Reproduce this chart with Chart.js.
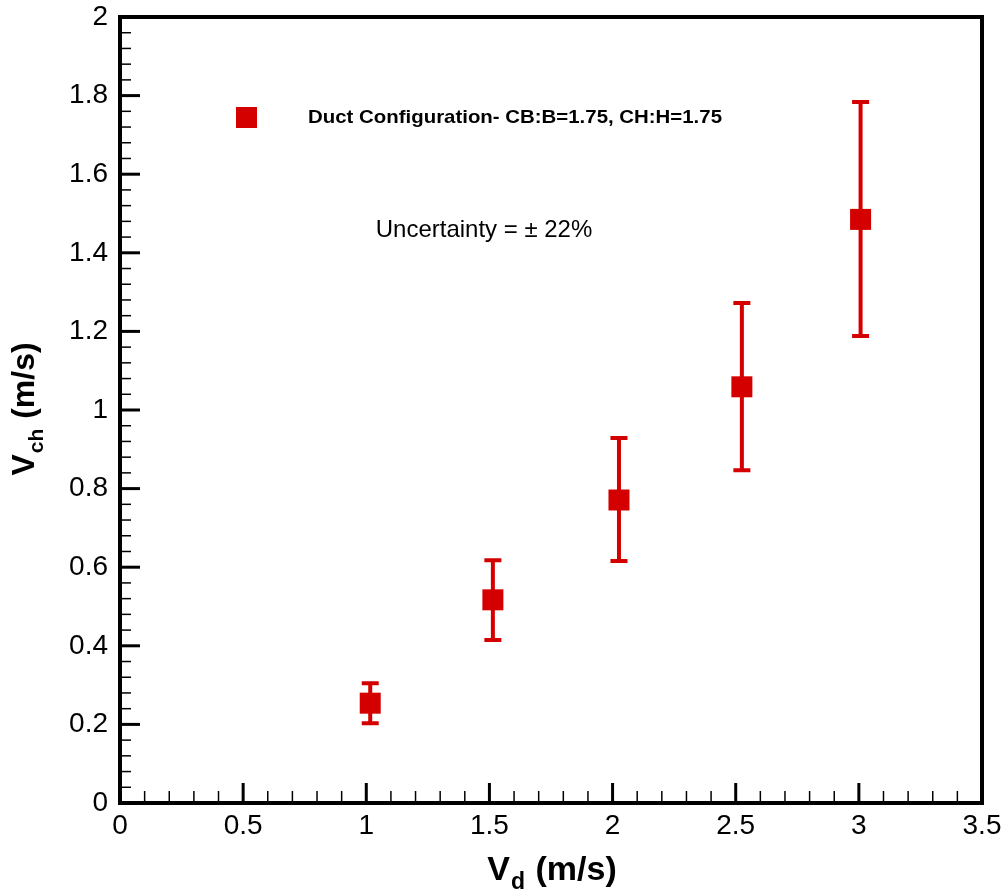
<!DOCTYPE html>
<html><head><meta charset="utf-8">
<script src="https://cdn.jsdelivr.net/npm/chart.js@4.4.0/dist/chart.umd.min.js"></script>
<style>html,body{margin:0;padding:0;background:#fff}#wrap{width:1005px;height:894px;position:relative}</style>
</head><body><div id="wrap"><canvas id="c" width="1005" height="894"></canvas></div>
<script>
const seriesLabel = 'Duct Configuration- CB:B=1.75, CH:H=1.75';
const vd      = [1.016, 1.514, 2.026, 2.525, 3.007];
const vch     = [0.254, 0.517, 0.771, 1.059, 1.485];
const vchLow  = [0.203, 0.415, 0.616, 0.847, 1.188];
const vchHigh = [0.305, 0.618, 0.929, 1.272, 1.784];
const xTicks = [0, 0.5, 1, 1.5, 2, 2.5, 3, 3.5];
const xTickLabels = ['0', '0.5', '1', '1.5', '2', '2.5', '3', '3.5'];
const yTicks = [0, 0.2, 0.4, 0.6, 0.8, 1, 1.2, 1.4, 1.6, 1.8, 2];
const yTickLabels = ['0', '0.2', '0.4', '0.6', '0.8', '1', '1.2', '1.4', '1.6', '1.8', '2'];
const xMinorPerMajor = 5;
const yMinorPerMajor = 5;
const annotationText = 'Uncertainty = \u00B1 22%';
const xTitleParts = ['V', 'd', ' (m/s)'];
const yTitleParts = ['V', 'ch', ' (m/s)'];

const RED = '#d40000';
const FONT = "'Liberation Sans', Arial, sans-serif";

const points = vd.map((x, i) => ({ x: x, y: vch[i] }));

function drawTitle(ctx, parts, size, subSize, subDrop) {
  ctx.font = 'bold ' + size + 'px ' + FONT;
  const w0 = ctx.measureText(parts[0]).width;
  const w2 = ctx.measureText(parts[2]).width;
  ctx.font = 'bold ' + subSize + 'px ' + FONT;
  const w1 = ctx.measureText(parts[1]).width;
  const total = w0 + w1 + w2;
  let x = -total / 2;
  ctx.textBaseline = 'alphabetic';
  ctx.textAlign = 'left';
  ctx.fillStyle = '#000';
  ctx.font = 'bold ' + size + 'px ' + FONT;
  ctx.fillText(parts[0], x, 0); x += w0;
  ctx.font = 'bold ' + subSize + 'px ' + FONT;
  ctx.fillText(parts[1], x + 1, subDrop); x += w1 + 2;
  ctx.font = 'bold ' + size + 'px ' + FONT;
  ctx.fillText(parts[2], x, 0);
}

function noPad(s) { s.paddingTop = 0; s.paddingBottom = 0; s.paddingLeft = 0; s.paddingRight = 0; }

const decor = {
  id: 'decor',
  beforeDatasetsDraw(chart) {
    const ctx = chart.ctx, xs = chart.scales.x, ys = chart.scales.y;
    ctx.save();
    ctx.strokeStyle = RED;
    ctx.lineWidth = 4;
    ctx.lineCap = 'butt';
    for (let i = 0; i < vd.length; i++) {
      const px = xs.getPixelForValue(vd[i]);
      const pl = ys.getPixelForValue(vchLow[i]);
      const ph = ys.getPixelForValue(vchHigh[i]);
      ctx.beginPath();
      ctx.moveTo(px, pl); ctx.lineTo(px, ph);
      ctx.moveTo(px - 8.5, pl); ctx.lineTo(px + 8.5, pl);
      ctx.moveTo(px - 8.5, ph); ctx.lineTo(px + 8.5, ph);
      ctx.stroke();
    }
    ctx.restore();
  },
  afterDraw(chart) {
    const ctx = chart.ctx, xs = chart.scales.x, ys = chart.scales.y;
    const a = chart.chartArea;
    ctx.save();
    ctx.strokeStyle = '#000';
    for (let i = 0; i < xTicks.length - 1; i++) {
      const step = (xTicks[i + 1] - xTicks[i]) / xMinorPerMajor;
      for (let k = 1; k < xMinorPerMajor; k++) {
        const px = xs.getPixelForValue(xTicks[i] + k * step);
        ctx.lineWidth = 1.5;
        ctx.beginPath(); ctx.moveTo(px, a.bottom); ctx.lineTo(px, a.bottom - 12); ctx.stroke();
      }
    }
    xTicks.forEach(v => {
      const px = xs.getPixelForValue(v);
      ctx.lineWidth = 3;
      ctx.beginPath(); ctx.moveTo(px, a.bottom); ctx.lineTo(px, a.bottom - 20); ctx.stroke();
    });
    for (let i = 0; i < yTicks.length - 1; i++) {
      const step = (yTicks[i + 1] - yTicks[i]) / yMinorPerMajor;
      for (let k = 1; k < yMinorPerMajor; k++) {
        const py = ys.getPixelForValue(yTicks[i] + k * step);
        ctx.lineWidth = 1.5;
        ctx.beginPath(); ctx.moveTo(a.left, py); ctx.lineTo(a.left + 11, py); ctx.stroke();
      }
    }
    yTicks.forEach(v => {
      const py = ys.getPixelForValue(v);
      ctx.lineWidth = 3;
      ctx.beginPath(); ctx.moveTo(a.left, py); ctx.lineTo(a.left + 20, py); ctx.stroke();
    });
    ctx.lineWidth = 4;
    ctx.strokeRect(a.left, a.top, a.right - a.left, a.bottom - a.top);

    // legend
    ctx.fillStyle = RED;
    ctx.fillRect(a.left + 116, a.top + 90, 21, 21);
    ctx.fillStyle = '#000';
    ctx.font = 'bold 19px ' + FONT;
    ctx.textAlign = 'left';
    ctx.textBaseline = 'alphabetic';
    const lbl = chart.data.datasets[0].label;
    const lw = ctx.measureText(lbl).width;
    ctx.save();
    ctx.translate(a.left + 188, a.top + 106);
    ctx.scale(414 / lw, 1);
    ctx.fillText(lbl, 0, 0);
    ctx.restore();

    // annotation
    ctx.font = '24px ' + FONT;
    ctx.textAlign = 'center';
    ctx.fillText(annotationText, 484, 237);

    // axis titles
    const cx = (a.left + a.right) / 2, cy = (a.top + a.bottom) / 2;
    ctx.save();
    ctx.translate(cx, 880);
    drawTitle(ctx, xTitleParts, 34, 23, 9);
    ctx.restore();
    ctx.save();
    ctx.translate(34, cy);
    ctx.rotate(-Math.PI / 2);
    drawTitle(ctx, yTitleParts, 32, 21, 9);
    ctx.restore();
    ctx.restore();
  }
};

new Chart(document.getElementById('c'), {
  type: 'scatter',
  data: {
    datasets: [{
      label: seriesLabel,
      data: points,
      pointStyle: 'rect',
      pointRadius: 14.85,
      pointHoverRadius: 14.85,
      pointBackgroundColor: RED,
      pointBorderWidth: 0,
      borderColor: RED,
      backgroundColor: RED
    }]
  },
  plugins: [decor],
  options: {
    responsive: false,
    animation: false,
    devicePixelRatio: 1,
    layout: { padding: { top: 17, right: 23, left: 0, bottom: 0 } },
    plugins: { legend: { display: false }, tooltip: { enabled: false } },
    scales: {
      x: {
        type: 'linear', min: 0, max: 3.5,
        afterBuildTicks: s => { s.ticks = xTicks.map(v => ({ value: v })); },
        afterFit: s => { s.height = 91; noPad(s); },
        grid: { display: false, drawTicks: false },
        border: { display: false },
        ticks: {
          padding: 6, color: '#000', maxRotation: 0, autoSkip: false,
          font: { family: FONT, size: 28 },
          callback: (v) => { const i = xTicks.indexOf(v); return i >= 0 ? xTickLabels[i] : ''; }
        }
      },
      y: {
        type: 'linear', min: 0, max: 2,
        afterBuildTicks: s => { s.ticks = yTicks.map(v => ({ value: v })); },
        afterFit: s => { s.width = 120; noPad(s); },
        grid: { display: false, drawTicks: false },
        border: { display: false },
        ticks: {
          padding: 12, color: '#000', autoSkip: false,
          font: { family: FONT, size: 28 },
          callback: (v) => { const i = yTicks.indexOf(v); return i >= 0 ? yTickLabels[i] : ''; }
        }
      }
    }
  }
});
</script></body></html>
